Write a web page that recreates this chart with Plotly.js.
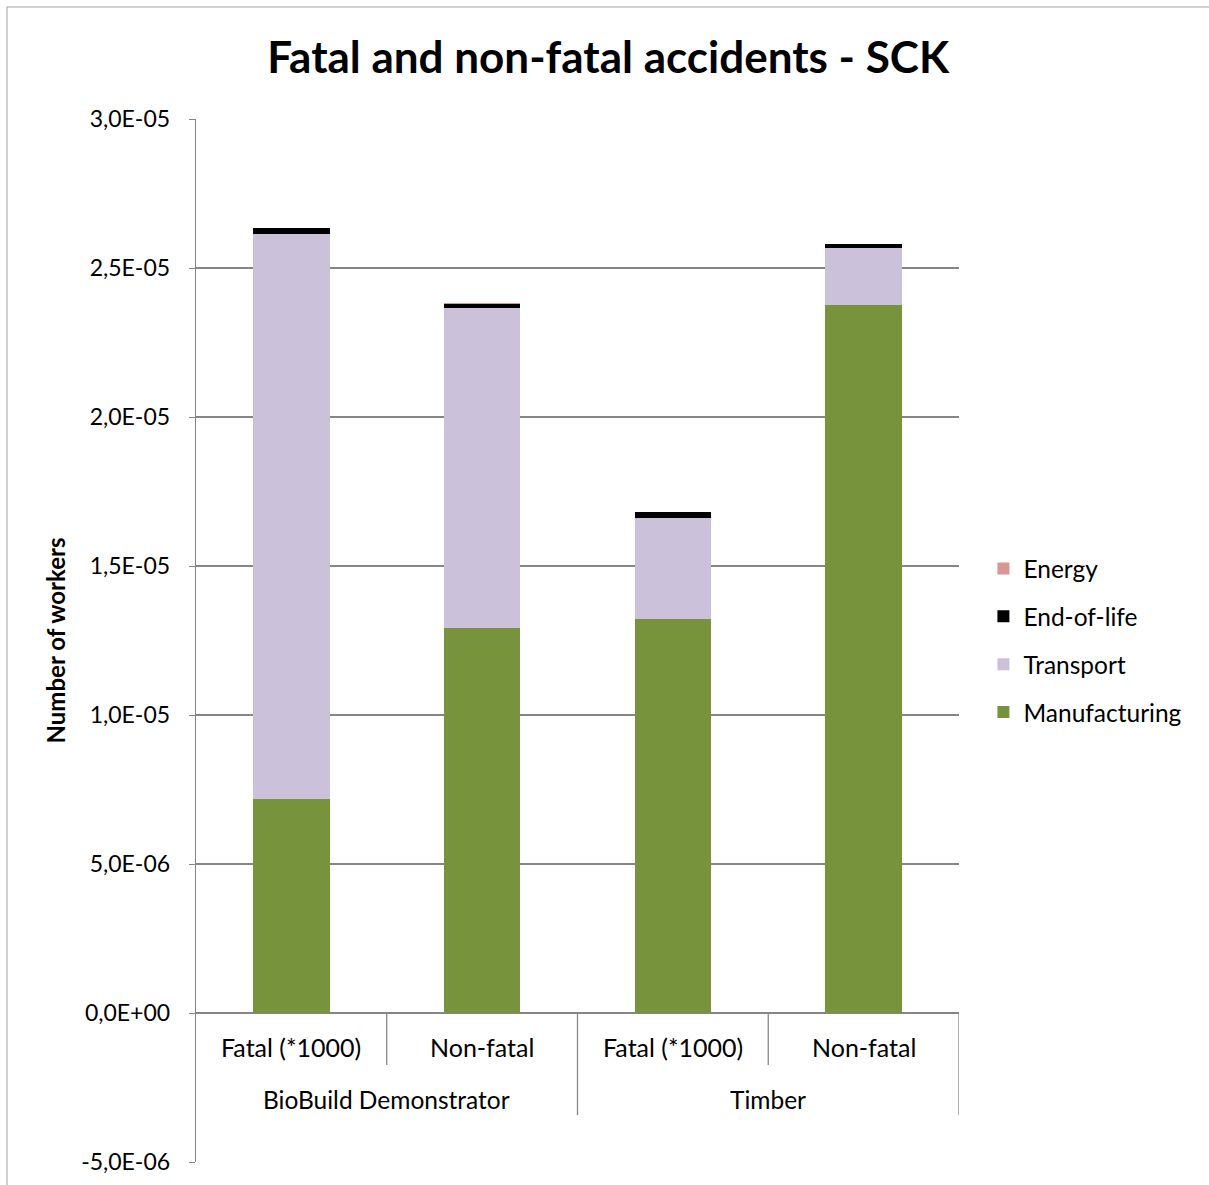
<!DOCTYPE html>
<html>
<head>
<meta charset="utf-8">
<script src="https://cdn.plot.ly/plotly-3.0.1.min.js"></script>
<style>
html,body{margin:0;padding:0;background:#fff;}
#chart{width:1209px;height:1185px;}
</style>
</head>
<body>
<div id="chart"></div>
<script>
// ---- Data ----
const subLabels = ["Fatal (*1000)", "Non-fatal", "Fatal (*1000)", "Non-fatal"];
const groupLabels = ["BioBuild Demonstrator", "Timber"];
const manufacturing = [7.18e-6, 12.92e-6, 13.22e-6, 23.76e-6];
const transport = [18.96e-6, 10.74e-6, 3.39e-6, 1.91e-6];
const endOfLife = [0.19e-6, 0.13e-6, 0.19e-6, 0.13e-6];
const energy = [0.02e-6, 0.02e-6, 0.01e-6, 0.01e-6];
const yTickVals = [-5e-6, 0, 5e-6, 1e-5, 1.5e-5, 2e-5, 2.5e-5, 3e-5];
const yTickText = ["-5,0E-06", "0,0E+00", "5,0E-06", "1,0E-05", "1,5E-05", "2,0E-05", "2,5E-05", "3,0E-05"];

const xs = subLabels.map((_, i) => i);
const FONT = "Lato, 'Open Sans', sans-serif";
const GRID = "#868686";
const yMin = -5e-6, yMax = 3e-5;

function bar(name, y, color, rank) {
  return {type: "bar", name: name, x: xs, y: y, width: 0.4,
    marker: {color: color, line: {width: 0}}, legendgroup: name, legendrank: rank,
    hoverinfo: "name+y"};
}
const traces = [
  bar("Manufacturing", manufacturing, "#77933C", 4),
  bar("Transport", transport, "#CCC1DA", 3),
  bar("End-of-life", endOfLife, "#000000", 2),
  bar("Energy", energy, "#D99694", 1)
];

const zeroFrac = (0 - yMin) / (yMax - yMin);
const shapes = [];
const annotations = [];
// separators between sub-categories and groups
[0.5, 1.5, 2.5, 3.5].forEach((xv, k) => {
  const isGroup = (k % 2 === 1);
  shapes.push({type: "line", xref: "x", yref: "paper", x0: xv, x1: xv,
    y0: zeroFrac, y1: isGroup ? 0.045 : 0.093, line: {color: GRID, width: 1.3}});
});
// border of chart area
shapes.push({type: "rect", xref: "paper", yref: "paper", x0: -0.2477, x1: 1.5, y0: -0.5, y1: 1.1074,
  line: {color: "#A0A0A0", width: 1}, fillcolor: "rgba(0,0,0,0)", layer: "below"});

subLabels.forEach((t, i) => {
  annotations.push({xref: "x", yref: "paper", x: i, y: 0.1103, text: t, showarrow: false,
    xanchor: "center", yanchor: "middle", font: {family: FONT, size: 25, color: "#000"}});
});
groupLabels.forEach((t, g) => {
  annotations.push({xref: "x", yref: "paper", x: g * 2 + 0.5, y: 0.0604, text: t, showarrow: false,
    xanchor: "center", yanchor: "middle", font: {family: FONT, size: 24.5, color: "#000"}});
});

const layout = {
  width: 1209, height: 1185,
  margin: {l: 196, r: 250, t: 119, b: 23, pad: 0},
  paper_bgcolor: "#fff", plot_bgcolor: "#fff",
  barmode: "stack",
  title: {text: "<b>Fatal and non-fatal accidents - SCK</b>", x: 0.503, xanchor: "center",
    y: 0.951, yanchor: "middle", font: {family: FONT, size: 44, color: "#000"}},
  xaxis: {range: [-0.5, 3.5], showticklabels: false, showgrid: false, zeroline: false,
    showline: false, ticks: "", fixedrange: true},
  yaxis: {range: [yMin, yMax], tickvals: yTickVals, ticktext: yTickText,
    showgrid: true, gridcolor: GRID, gridwidth: 1.3, zeroline: true, zerolinecolor: GRID, zerolinewidth: 1.3,
    showline: true, linecolor: GRID, linewidth: 1.3, ticks: "outside", ticklen: 6, tickcolor: GRID,
    tickfont: {family: FONT, size: 23, color: "#000"}, ticklabelstandoff: 14,
    title: {text: "<b>Number of workers</b>", font: {family: FONT, size: 24, color: "#000"}, standoff: 8}},
  legend: {x: 1.032, xanchor: "left", y: 0.5, yanchor: "middle", traceorder: "grouped",
    tracegroupgap: 13, font: {family: FONT, size: 24.5, color: "#000"}, itemwidth: 30, bgcolor: "rgba(0,0,0,0)"},
  shapes: shapes,
  annotations: annotations,
  showlegend: true
};

Plotly.newPlot("chart", traces, layout, {displayModeBar: false, staticPlot: true});
</script>
</body>
</html>
